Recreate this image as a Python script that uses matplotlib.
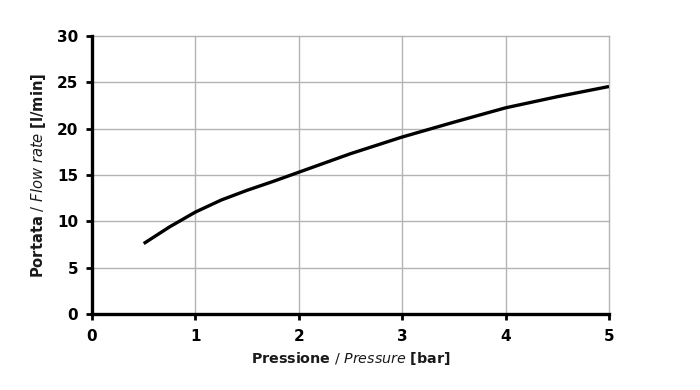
import matplotlib
matplotlib.use('Agg')
import matplotlib.pyplot as plt

# values
pressure = [0.5, 0.75, 1.0, 1.25, 1.5, 1.75, 2.0, 2.5, 3.0, 3.5, 4.0, 4.5, 5.0]
flow_rate = [7.6, 9.4, 11.0, 12.3, 13.35, 14.3, 15.3, 17.3, 19.1, 20.7, 22.25, 23.45, 24.55]

x_ticks = [0, 1, 2, 3, 4, 5]
y_ticks = [0, 5, 10, 15, 20, 25, 30]

FONT = 'DejaVu Sans'
matplotlib.rcParams['font.family'] = FONT
matplotlib.rcParams['mathtext.fontset'] = 'custom'
matplotlib.rcParams['mathtext.rm'] = FONT
matplotlib.rcParams['mathtext.it'] = FONT + ':italic'
matplotlib.rcParams['mathtext.bf'] = FONT + ':bold'

fig = plt.figure(figsize=(7, 3.9), dpi=100)
ax = fig.add_axes([92 / 700, 76 / 390, 517 / 700, 278 / 390])

ax.plot(pressure, flow_rate, color='black', linewidth=2.4, solid_capstyle='butt', zorder=5)

ax.set_xlim(0, 5)
ax.set_ylim(0, 30)
ax.set_xticks(x_ticks)
ax.set_yticks(y_ticks)
ax.set_xticklabels([str(t) for t in x_ticks], fontweight='bold', fontsize=11)
ax.set_yticklabels([str(t) for t in y_ticks], fontweight='bold', fontsize=11)

ax.grid(True, color='#b3b3b3', linewidth=1.0, zorder=0)
for line in ax.get_xgridlines() + ax.get_ygridlines():
    line.set_clip_on(False)
for side in ('top', 'right'):
    ax.spines[side].set_visible(False)
for side in ('left', 'bottom'):
    ax.spines[side].set_linewidth(2.4)
    ax.spines[side].set_zorder(6)
ax.tick_params(direction='out', length=4, width=2, colors='black')
ax.tick_params(axis='y', pad=6)
ax.tick_params(axis='x', pad=7)

ax.set_xlabel(r'$\mathbf{Pressione}$ / $\mathit{Pressure}$ $\mathbf{[bar]}$',
              fontsize=10.3, color='#1a1a1a', labelpad=4)
ax.set_ylabel(r'$\mathbf{Portata}$ / $\mathit{Flow\ rate}$ $\mathbf{[l/min]}$',
              fontsize=10.6, color='#1a1a1a', labelpad=6)

plt.savefig('out.png', dpi=100)
